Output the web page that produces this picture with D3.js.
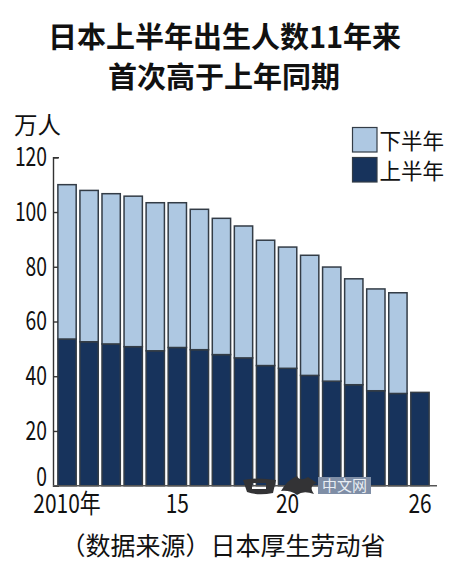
<!DOCTYPE html>
<html>
<head>
<meta charset="utf-8">
<script src="https://cdn.jsdelivr.net/npm/d3@7"></script>
<style>
html, body { margin: 0; padding: 0; background: #fff; }
svg { display: block; }
text { fill: #111; font-family: "Noto Sans CJK SC", sans-serif; }
</style>
</head>
<body>
<div id="chart"></div>
<script>
const years = d3.range(2010, 2027);
const firstHalf = [53.6, 52.6, 51.8, 50.8, 49.3, 50.5, 49.7, 47.9, 46.7, 43.9, 42.9, 40.3, 38.2, 36.9, 34.7, 33.7, 34.1];
const secondHalf = [56.4, 55.3, 54.9, 55.0, 54.1, 52.9, 51.3, 49.8, 48.2, 45.8, 44.3, 43.9, 41.7, 38.7, 37.2, 36.8, 0];
const yTicks = [0, 20, 40, 60, 80, 100, 120];
const xTickYears = [2010, 2015, 2020, 2026];
const xTickLabels = ["2010年", "15", "20", "26"];
const legendNames = ["下半年", "上半年"];

const lightBlue = "#aec8e2", darkBlue = "#17335c", edge = "#333c46";

const width = 450, height = 570;
const svg = d3.select("#chart").append("svg").attr("width", width).attr("height", height);

const x = d3.scaleBand().domain(years).range([56, 431]).paddingInner(0.17).paddingOuter(0.085);
const y = d3.scaleLinear().domain([0, 120]).range([485.7, 157.3]);

// stack first half on the bottom
const rows = years.map((yr, i) => ({ year: yr, first: firstHalf[i], second: secondHalf[i] }));
const series = d3.stack().keys(["first", "second"])(rows);
const colors = { first: darkBlue, second: lightBlue };

svg.selectAll("g.series")
    .data(series)
    .enter()
    .append("g")
    .attr("class", "series")
    .attr("fill", d => colors[d.key])
    .selectAll("rect")
    .data(d => d.filter(p => p[1] > p[0]))
    .enter()
    .append("rect")
    .attr("x", d => x(d.data.year))
    .attr("width", x.bandwidth())
    .attr("y", d => y(d[1]))
    .attr("height", d => y(d[0]) - y(d[1]))
    .attr("stroke", edge)
    .attr("stroke-width", 1.5);

// the digits in the reference are condensed, no narrow font here so squeeze them
function squeeze(sel, digitWidth, cjkWidth) {
    sel.each(function() {
        const t = this.textContent;
        const digits = t.replace(/[^0-9]/g, "").length;
        d3.select(this)
            .attr("textLength", digits * digitWidth + (t.length - digits) * cjkWidth)
            .attr("lengthAdjust", "spacingAndGlyphs");
    });
}

// y axis, ticks point inward
const yAxis = svg.append("g")
    .attr("transform", "translate(53,0)")
    .call(d3.axisLeft(y).tickValues(yTicks).tickSize(-5).tickSizeOuter(-6).tickPadding(6));
yAxis.selectAll("path, line").attr("stroke", "#333").attr("stroke-width", 1.4);
yAxis.selectAll("text").style("font-size", "26px").call(squeeze, 10.7, 0);
yAxis.selectAll("g.tick").filter(d => d === 0).select("text").attr("y", -9);

// x axis
const xAxis = svg.append("g")
    .attr("transform", "translate(0,485.7)")
    .call(d3.axisBottom(x).tickValues(xTickYears).tickSize(0).tickPadding(9)
        .tickFormat(d => xTickLabels[xTickYears.indexOf(d)]));
xAxis.select(".domain").remove();
xAxis.selectAll("text").style("font-size", "26px").call(squeeze, 11.6, 21);
svg.append("line").attr("x1", 53).attr("x2", 437).attr("y1", 485.7).attr("y2", 485.7)
    .attr("stroke", "#555").attr("stroke-width", 1.4);

// titles
svg.append("text").attr("x", 224.5).attr("y", 48).attr("text-anchor", "middle")
    .attr("font-size", 29).attr("font-weight", 700).text("日本上半年出生人数11年来");
svg.append("text").attr("x", 224).attr("y", 88).attr("text-anchor", "middle")
    .attr("font-size", 29).attr("font-weight", 700).text("首次高于上年同期");
svg.append("text").attr("x", 14).attr("y", 134).attr("font-size", 23.5).text("万人");
svg.append("text").attr("x", 223).attr("y", 555).attr("text-anchor", "middle")
    .attr("font-size", 25).text("（数据来源）日本厚生劳动省");

// legend
const legend = svg.selectAll("g.legend")
    .data(legendNames)
    .enter()
    .append("g")
    .attr("class", "legend")
    .attr("transform", (d, i) => `translate(352.5,${127.5 + i * 30})`);
legend.append("rect").attr("width", 24.5).attr("height", 24.5)
    .attr("fill", (d, i) => i === 0 ? lightBlue : darkBlue)
    .attr("stroke", edge).attr("stroke-width", 1.2);
legend.append("text").attr("x", 27).attr("y", 21).attr("font-size", 21.5).text(d => d);

// site stamp over the axis: brush logo and the grey box
const logo = svg.append("g").attr("fill", "#333335");
logo.append("path").attr("fill-rule", "evenodd")
    .attr("d", "M243,480 Q258,477 276,480 L273,493 Q258,496 247,492 Z M252,483 L266,483 L266,489 L252,489 Z");
logo.append("path")
    .attr("d", "M281,491 Q287,480 297,476 Q300,482 308,477 L317,483 Q308,486 314,494 Q303,490 297,495 Q290,490 281,491 Z");
const stamp = svg.append("g").attr("transform", "translate(318,477)");
stamp.append("rect").attr("width", 53).attr("height", 17).attr("fill", "#7f8ea6");
stamp.append("text").attr("x", 26.5).attr("y", 14).attr("text-anchor", "middle")
    .attr("font-size", 15).style("fill", "#e8edf3").text("中文网");
</script>
</body>
</html>
